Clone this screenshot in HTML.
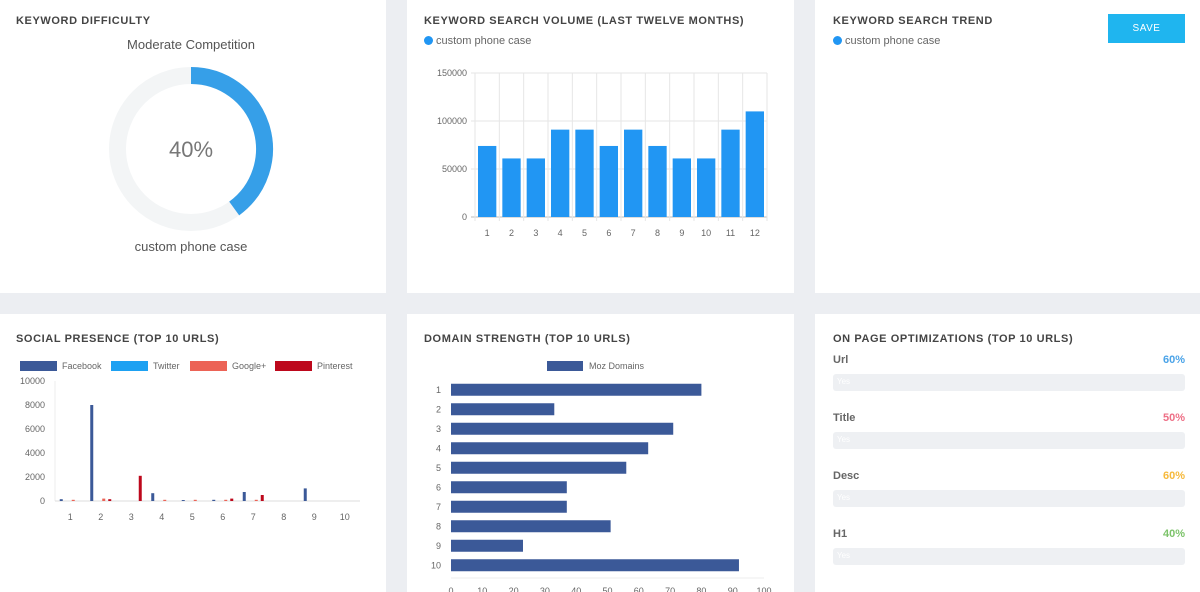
<!DOCTYPE html>
<html><head><meta charset="utf-8"><style>
*{margin:0;padding:0;box-sizing:border-box}
body{width:1200px;height:592px;background:#eceef2;position:relative;overflow:hidden;font-family:"Liberation Sans",sans-serif;color:#555}
.card{position:absolute;background:#fff}
.t{position:absolute;font-size:11px;font-weight:bold;letter-spacing:.6px;color:#444}
.lg{position:absolute;font-size:11px;color:#666}
.dot{display:inline-block;width:9px;height:9px;border-radius:50%;background:#2196f3;margin-right:3px;vertical-align:-1px}
svg{position:absolute;left:0;top:0}
svg text{font-family:"Liberation Sans",sans-serif}
.opt{position:absolute;left:833px;width:352px}
.opt .n{position:absolute;left:0;top:0;font-size:11px;font-weight:bold;color:#666}
.opt .p{position:absolute;right:0;top:0;font-size:11px;font-weight:bold}
.opt .b{position:absolute;left:0;top:20px;width:352px;height:17px;background:#eef0f3;border-radius:3px}
.opt .b span{position:absolute;left:4px;top:3px;font-size:8px;color:#fff}
</style></head><body>
<div class="card" style="left:0;top:0;width:386px;height:293px"></div>
<div class="card" style="left:407px;top:0;width:387px;height:293px"></div>
<div class="card" style="left:815px;top:0;width:385px;height:293px"></div>
<div class="card" style="left:0;top:314px;width:386px;height:278px"></div>
<div class="card" style="left:407px;top:314px;width:387px;height:278px"></div>
<div class="card" style="left:815px;top:314px;width:385px;height:278px"></div>

<div class="t" style="left:16px;top:15px">KEYWORD DIFFICULTY</div>
<div class="t" style="left:424px;top:15px">KEYWORD SEARCH VOLUME (LAST TWELVE MONTHS)</div>
<div class="t" style="left:833px;top:15px">KEYWORD SEARCH TREND</div>
<div class="t" style="left:16px;top:333px">SOCIAL PRESENCE (TOP 10 URLS)</div>
<div class="t" style="left:424px;top:333px">DOMAIN STRENGTH (TOP 10 URLS)</div>
<div class="t" style="left:833px;top:333px">ON PAGE OPTIMIZATIONS (TOP 10 URLS)</div>

<div style="position:absolute;left:1108px;top:14px;width:77px;height:29px;background:#1fb5ef;color:#fff;font-size:10px;text-align:center;line-height:29px;letter-spacing:.5px">SAVE</div>
<div class="lg" style="left:424px;top:35px"><span class="dot"></span>custom phone case</div>
<div class="lg" style="left:833px;top:35px"><span class="dot"></span>custom phone case</div>

<div style="position:absolute;left:91px;width:200px;top:37px;text-align:center;font-size:13px;color:#555">Moderate Competition</div>
<div style="position:absolute;left:91px;width:200px;top:239px;text-align:center;font-size:13px;color:#555">custom phone case</div>

<div class="opt" style="top:354px"><div class="n">Url</div><div class="p" style="color:#4aa3e8">60%</div><div class="b"><span>Yes</span></div></div>
<div class="opt" style="top:412px"><div class="n">Title</div><div class="p" style="color:#ee6f86">50%</div><div class="b"><span>Yes</span></div></div>
<div class="opt" style="top:470px"><div class="n">Desc</div><div class="p" style="color:#f6b93b">60%</div><div class="b"><span>Yes</span></div></div>
<div class="opt" style="top:528px"><div class="n">H1</div><div class="p" style="color:#7cc36a">40%</div><div class="b"><span>Yes</span></div></div>

<svg id="s" width="1200" height="592"></svg>
<script>
const difficulty = 40;
const volMonths = ['1','2','3','4','5','6','7','8','9','10','11','12'];
const volValues = [74000,61000,61000,91000,91000,74000,91000,74000,61000,61000,91000,110000];
const volTicks = [0,50000,100000,150000];
const socialCats = ['1','2','3','4','5','6','7','8','9','10'];
const facebook = [150,8000,0,650,80,100,750,0,1050,0];
const twitter = [0,0,0,0,0,0,0,0,0,0];
const googleplus = [100,200,0,100,100,100,100,0,0,0];
const pinterest = [0,150,2100,0,0,200,500,0,0,0];
const socialTicks = [0,2000,4000,6000,8000,10000];
const domCats = ['1','2','3','4','5','6','7','8','9','10'];
const domValues = [80,33,71,63,56,37,37,51,23,92];
const domTicks = [0,10,20,30,40,50,60,70,80,90,100];

const s=document.getElementById('s');const NS='http://www.w3.org/2000/svg';
function E(t,a,txt){const e=document.createElementNS(NS,t);for(const k in a)e.setAttribute(k,a[k]);if(txt!=null)e.textContent=txt;s.appendChild(e);return e;}

// donut
(function(){const cx=191,cy=149,r=73.5;
let c=E('circle',{cx,cy,r,fill:'none',stroke:'#f3f5f6','stroke-width':17});

const a=difficulty/100*2*Math.PI;const x=cx+r*Math.sin(a),y=cy-r*Math.cos(a);
let p=E('path',{d:`M${cx},${cy-r} A${r},${r} 0 ${a>Math.PI?1:0} 1 ${x},${y}`,fill:'none',stroke:'#369fe8','stroke-width':17});

let t=E('text',{x:cx,y:cy+8,'text-anchor':'middle','font-size':22,fill:'#777'},difficulty+'%');

})();

// volume
(function(){const x0=475,x1=767,y0=217,y1=73,max=150000;const bw=(x1-x0)/volMonths.length;
const Y=v=>y0-(v/max)*(y0-y1);
volTicks.forEach(v=>{E('line',{x1:x0-4,x2:x1,y1:Y(v),y2:Y(v),stroke:v?'#e6e6e6':'#bbb'});
let t=E('text',{x:x0-8,y:Y(v)+3,'text-anchor':'end','font-size':9,fill:'#666'},v);});
for(let i=0;i<=volMonths.length;i++)E('line',{x1:x0+i*bw,x2:x0+i*bw,y1:y1,y2:y0+4,stroke:'#e6e6e6'});
volMonths.forEach((m,i)=>{let r=E('rect',{x:x0+i*bw+3,y:Y(volValues[i]),width:bw-6,height:y0-Y(volValues[i]),fill:'#2196f3'});

let t=E('text',{x:x0+i*bw+bw/2,y:y0+19,'text-anchor':'middle','font-size':9,fill:'#666'},m);});
})();

// social
(function(){const x0=55,x1=360,y0=501,y1=381,max=10000;const gw=(x1-x0)/socialCats.length;
const Y=v=>y0-(v/max)*(y0-y1);
const series=[[facebook,'#3b5998','Facebook'],[twitter,'#1da1f2','Twitter'],[googleplus,'#ec6356','Google+'],[pinterest,'#bd081c','Pinterest']];
const lx=[20,111,190,275];
series.forEach((sr,k)=>{let r=E('rect',{x:lx[k],y:361,width:37,height:10,fill:sr[1]});
let t=E('text',{x:lx[k]+42,y:369,'font-size':9,fill:'#666'},sr[2]);});
E('line',{x1:x0,x2:x0,y1:y1,y2:y0,stroke:'#eee'});E('line',{x1:x0,x2:x1,y1:y0,y2:y0,stroke:'#ddd'});
socialTicks.forEach(v=>{let t=E('text',{x:45,y:Y(v)+3,'text-anchor':'end','font-size':9,fill:'#666'},v);});
const off=[-9,-3,3,9];
socialCats.forEach((c,i)=>{const cx=x0+gw*i+gw/2;
series.forEach((sr,k)=>{const v=sr[0][i];if(!v)return;let r=E('rect',{x:cx+off[k]-1.5,y:Y(v),width:3,height:y0-Y(v),fill:sr[1]});});
let t=E('text',{x:cx,y:y0+19,'text-anchor':'middle','font-size':9,fill:'#666'},c);});
})();

// domain
(function(){const x0=451,x1=764,y0=380,rh=19.5,max=100;const X=v=>x0+(v/max)*(x1-x0);
let lr=E('rect',{x:547,y:361,width:36,height:10,fill:'#3b5998'});
let lt=E('text',{x:589,y:369,'font-size':9,fill:'#666'},'Moz Domains');
E('line',{x1:x0,x2:x1,y1:y0+rh*domCats.length+3,y2:y0+rh*domCats.length+3,stroke:'#eee'});
domTicks.forEach(v=>{let t=E('text',{x:X(v),y:594,'text-anchor':'middle','font-size':9,fill:'#666'},v);});
domCats.forEach((c,i)=>{const cy=y0+rh*i+rh/2;
let r=E('rect',{x:x0,y:cy-6,width:X(domValues[i])-x0,height:12,fill:'#3b5998'});
let t=E('text',{x:441,y:cy+3,'text-anchor':'end','font-size':9,fill:'#666'},c);});
})();
</script>
</body></html>
